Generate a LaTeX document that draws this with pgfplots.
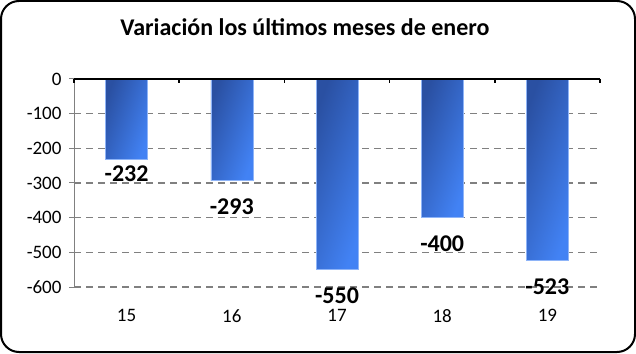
\documentclass[border=0pt]{standalone}
\usepackage{pgfplots}
\pgfplotsset{compat=1.18}
\usepackage{fontspec}
\setmainfont{Carlito}
\definecolor{bardark}{RGB}{42,80,162}
\definecolor{barlight}{RGB}{66,130,244}
\definecolor{gridgray}{RGB}{128,128,128}
\pgfplotsset{barsty/.style={draw=barlight!60!white, line width=0.6pt, left color=bardark, right color=barlight, shading angle=70}}
\begin{document}
\begin{tikzpicture}
\draw[black, line width=2pt, rounded corners=18pt] (1pt,1pt) rectangle (635pt,352pt);
\node[font=\bfseries\fontsize{24}{28}\selectfont] at (305pt,326pt) {Variación los últimos meses de enero};
\begin{axis}[
  at={(74pt,66pt)}, anchor=south west,
  scale only axis, width=526pt, height=208pt,
  ybar, bar width=42pt, bar shift=0pt,
  xmin=-0.5, xmax=4.5, ymin=-600, ymax=0,
  xtick={0,1,2,3,4}, xticklabels={15,16,17,18,19},
  ytick={-600,-500,-400,-300,-200,-100,0},
  yticklabels={-600,-500,-400,-300,-200,-100,0},
  /pgf/number format/assume math mode=true,
  x axis line style={draw=none},
  y axis line style={draw=gridgray, line width=1pt},
  axis x line*=bottom, axis y line*=left,
  major x tick style={draw=none},
  ytick style={draw=gridgray, line width=1pt},
  tick align=outside, major tick length=5pt,
  ymajorgrids, grid style={gridgray, line width=1.2pt, dash pattern=on 7pt off 5pt},
  ticklabel style={font=\fontsize{19}{22}\selectfont},
  xticklabel style={inner sep=0pt, yshift=-17pt},
  yticklabel style={xshift=-4pt},
  nodes near coords,
  every node near coord/.append style={font=\bfseries\fontsize{24}{28}\selectfont, inner sep=0pt, yshift=-18pt},
  clip=false,
]
\addplot[barsty, every node near coord/.append style={yshift=11.5pt}] coordinates {(0,-232)};
\addplot[barsty] coordinates {(1,-293)};
\addplot[barsty] coordinates {(2,-550)};
\addplot[barsty] coordinates {(3,-400)};
\addplot[barsty] coordinates {(4,-523)};
\draw[black, line width=1.5pt] (axis cs:-0.5,0) -- (axis cs:4.5,0);
\pgfplotsinvokeforeach{-0.5,0.5,1.5,2.5,3.5,4.5}{\draw[black, line width=1.5pt] (axis cs:#1,0) -- ++(0pt,-4pt);}
\end{axis}
\end{tikzpicture}
\end{document}
